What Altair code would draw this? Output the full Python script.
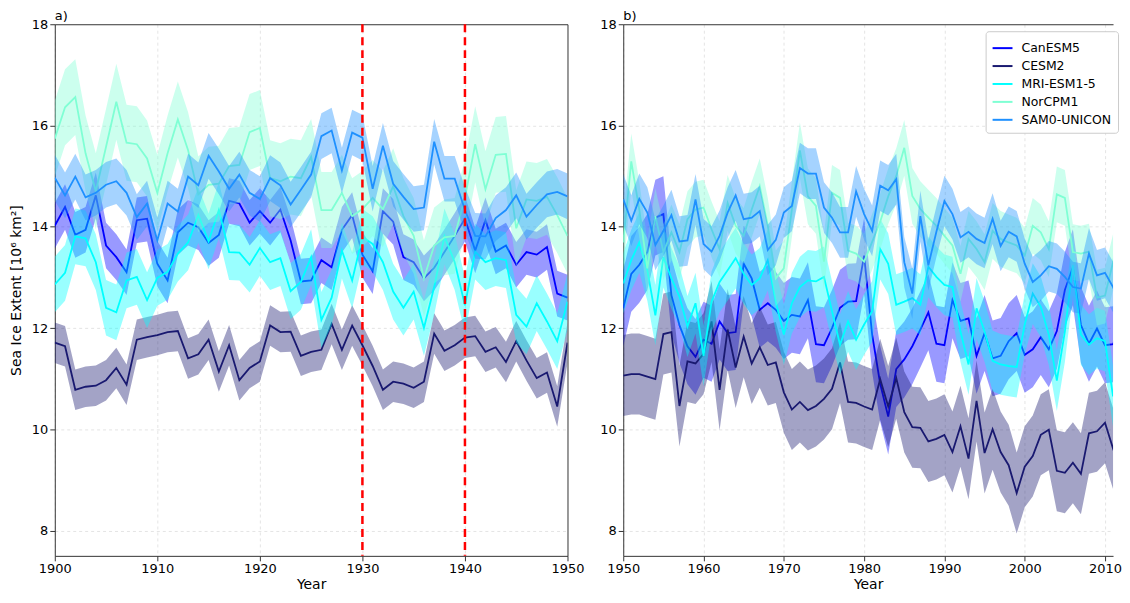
import altair as alt
import pandas as pd

models = ["CanESM5", "CESM2", "MRI-ESM1-5", "NorCPM1", "SAM0-UNICON"]
line_colors = ["#0000ff", "#191970", "#00ffff", "#7fffd4", "#1e90ff"]

years_a = list(range(1900, 1951))
years_b = list(range(1950, 2013))

# ---- panel a (1900-1950) ----
canesm5_a = [14.02, 14.39, 13.84, 13.94, 14.62, 13.63, 13.40, 13.10, 14.13, 14.16,
             13.27, 12.94, 13.89, 14.08, 13.99, 13.68, 13.84, 14.51, 14.46, 14.08,
             14.31, 14.08, 14.34, 13.73, 12.92, 12.94, 13.34, 13.20, 13.94, 14.23,
             13.45, 13.12, 14.31, 14.10, 13.40, 13.30, 12.98, 13.19, 13.50, 13.82,
             14.16, 13.53, 14.13, 13.51, 13.63, 13.25, 13.50, 13.45, 13.60, 12.68,
             12.60]
cesm2_a = [11.71, 11.64, 10.78, 10.84, 10.86, 10.97, 11.21, 10.88, 11.77, 11.82,
           11.86, 11.92, 11.94, 11.40, 11.48, 11.77, 11.14, 11.66, 10.97, 11.21,
           11.34, 12.05, 11.92, 11.93, 11.45, 11.53, 11.57, 12.08, 11.57, 12.05,
           11.66, 11.25, 10.78, 10.94, 10.90, 10.82, 10.94, 11.89, 11.55, 11.66,
           11.81, 11.84, 11.53, 11.62, 11.33, 11.74, 11.36, 11.01, 11.12, 10.45,
           11.71]
mri_a = [12.86, 13.09, 13.81, 13.77, 13.30, 12.40, 12.31, 12.94, 13.01, 12.55,
         12.99, 13.11, 13.47, 13.69, 14.23, 13.71, 14.33, 13.50, 13.49, 13.25,
         13.58, 13.30, 13.38, 12.73, 12.91, 13.40, 12.16, 12.60, 13.53, 12.94,
         13.80, 13.66, 13.30, 12.72, 12.40, 12.72, 12.00, 12.81, 13.81, 13.30,
         12.45, 13.51, 13.30, 13.38, 13.34, 12.26, 12.03, 12.49, 12.13, 11.74,
         12.52]
norcpm1_a = [15.74, 16.36, 16.56, 15.45, 14.70, 15.58, 16.47, 15.66, 15.63, 15.35,
             14.67, 15.45, 16.12, 15.51, 14.64, 14.83, 14.85, 15.20, 15.22, 15.87,
             15.95, 14.96, 14.90, 14.99, 14.96, 15.38, 14.33, 14.33, 14.67, 14.21,
             14.35, 14.57, 14.35, 14.80, 14.21, 13.82, 12.98, 13.63, 13.79, 13.82,
             14.57, 15.63, 14.74, 15.42, 15.44, 13.97, 14.54, 14.51, 14.59, 14.23,
             13.82]
sam0_a = [14.97, 14.62, 14.99, 14.58, 14.67, 14.83, 14.90, 14.67, 14.19, 14.46,
          13.73, 14.46, 14.30, 14.99, 14.82, 15.40, 15.09, 14.75, 15.03, 14.67,
          14.55, 14.96, 14.82, 14.44, 14.73, 15.03, 15.79, 15.90, 15.11, 15.86,
          15.76, 14.75, 15.60, 14.85, 14.59, 14.35, 14.38, 15.68, 14.95, 14.95,
          14.33, 13.82, 13.81, 14.17, 14.33, 14.62, 14.20, 14.43, 14.64, 14.69,
          14.60]

# ---- panel b (1950-2012) ----
canesm5_b = [12.39, 13.07, 13.25, 13.50, 14.18, 14.25, 12.65, 12.06, 11.64, 11.43,
             11.77, 11.69, 12.13, 11.90, 11.92, 13.27, 12.98, 12.36, 12.49, 12.36,
             12.14, 12.26, 12.23, 12.55, 11.68, 11.66, 12.00, 12.40, 12.52, 12.53,
             13.43, 11.87, 10.90, 10.25, 11.19, 11.38, 11.64, 11.97, 12.31, 11.69,
             11.66, 12.55, 12.14, 12.19, 11.45, 11.90, 11.40, 11.45, 11.74, 11.90,
             11.47, 11.58, 11.82, 11.58, 11.94, 12.75, 13.20, 12.06, 11.69, 11.99,
             11.66, 11.68, 12.06]
cesm2_b = [11.06, 11.09, 11.09, 11.04, 10.99, 11.88, 11.92, 10.46, 11.34, 11.30,
           11.49, 12.13, 10.78, 11.97, 11.22, 11.83, 11.30, 11.62, 11.27, 11.32,
           10.73, 10.39, 10.54, 10.38, 10.46, 10.60, 10.80, 11.32, 10.54, 10.52,
           10.45, 10.39, 10.99, 10.45, 11.01, 10.34, 10.04, 10.03, 9.76, 9.81,
           9.89, 9.55, 10.06, 9.42, 10.56, 9.53, 10.00, 9.55, 9.29, 8.74,
           9.26, 9.47, 9.89, 9.99, 9.18, 9.14, 9.34, 9.12, 9.92, 9.96,
           10.13, 9.62, 9.89]
mri_b = [12.88, 13.34, 13.69, 13.14, 12.25, 13.40, 12.98, 12.62, 12.03, 12.49,
         11.45, 12.52, 12.91, 13.14, 13.38, 13.07, 12.85, 12.98, 13.34, 12.52,
         11.87, 12.49, 12.81, 12.94, 12.92, 13.01, 12.33, 11.67, 12.13, 11.77,
         12.07, 12.33, 13.56, 13.27, 12.46, 12.52, 12.59, 12.46, 13.21, 13.01,
         12.85, 12.81, 11.93, 11.28, 12.39, 11.93, 11.35, 11.28, 11.25, 11.23,
         12.07, 12.68, 12.42, 11.87, 10.96, 11.93, 13.24, 11.87, 11.67, 11.80,
         11.74, 10.65, 11.50]
norcpm1_b = [13.69, 15.29, 14.34, 13.18, 14.21, 13.50, 13.89, 13.50, 14.15, 14.34,
             14.38, 13.95, 13.56, 14.47, 14.02, 13.82, 14.34, 14.80, 14.02, 12.98,
             13.18, 14.34, 15.51, 14.60, 14.41, 13.31, 14.67, 14.57, 13.53, 13.47,
             13.31, 13.70, 14.10, 14.60, 15.00, 15.56, 14.61, 14.35, 14.18, 14.02,
             13.82, 13.63, 13.07, 13.76, 13.56, 13.30, 13.92, 13.76, 13.69, 13.63,
             13.43, 14.02, 13.89, 13.56, 14.64, 14.57, 13.50, 13.47, 13.51, 12.60,
             12.64, 13.30, 14.08]
sam0_b = [14.54, 14.12, 14.55, 14.28, 13.64, 13.92, 14.23, 13.71, 13.73, 14.54,
          13.66, 13.51, 13.82, 14.28, 14.62, 14.15, 14.18, 14.31, 13.54, 13.74,
          14.28, 14.41, 15.16, 15.05, 15.05, 14.38, 14.18, 13.89, 13.89, 14.70,
          14.25, 13.92, 14.81, 14.72, 14.94, 13.30, 12.68, 14.21, 13.24, 13.90,
          14.51, 14.25, 13.79, 13.90, 13.76, 13.68, 14.16, 13.62, 13.90, 13.81,
          13.27, 12.91, 13.04, 13.22, 13.17, 13.01, 12.81, 12.78, 13.47, 13.04,
          13.09, 12.81, 12.39]

# half-widths of the shaded ensemble ranges
spread_a = [0.45, 0.40, 0.55, 0.75, 0.45]
spread_b = [0.75, 0.80, 0.60, 0.55, 0.50]

vlines = [1930, 1940]
y_ticks = [8, 10, 12, 14, 16, 18]

series_a = [canesm5_a, cesm2_a, mri_a, norcpm1_a, sam0_a]
series_b = [canesm5_b, cesm2_b, mri_b, norcpm1_b, sam0_b]


def make_df(years, series, spreads):
    rows = []
    for m, vals, s in zip(models, series, spreads):
        for y, v in zip(years, vals):
            rows.append({"year": y, "model": m, "value": v,
                         "lo": round(v - s, 3), "hi": round(v + s, 3)})
    return pd.DataFrame(rows)


FONT = "DejaVu Sans"
HEIGHT = 534
GRID = "#dddddd"
EDGE = "#333333"


def edge_cond(test, edge_val, normal_val):
    return {"condition": {"test": test, "value": edge_val}, "value": normal_val}


def panel(df, xdom, xticks, width, title, ytitle, legend, extra=None):
    xs = alt.Scale(domain=xdom, nice=False, zero=False)
    ys = alt.Scale(domain=[7.5, 18], nice=False, zero=False)
    xtest = "datum.value == %d" % xdom[1]
    xax = alt.Axis(title="Year", values=xticks, format="d", titlePadding=2,
                   labelFlush=False,
                   gridColor=edge_cond(xtest, EDGE, GRID),
                   gridDash=edge_cond(xtest, [], [3, 3]),
                   gridWidth=edge_cond(xtest, 1, 0.8))
    ytest = "datum.value == 18"
    ykw = dict(values=y_ticks, titlePadding=8,
               gridColor=edge_cond(ytest, EDGE, GRID),
               gridDash=edge_cond(ytest, [], [3, 3]),
               gridWidth=edge_cond(ytest, 1, 0.8))
    yax = alt.Axis(title=ytitle, **ykw) if ytitle else alt.Axis(title=None, **ykw)
    color = alt.Color("model:N",
                      scale=alt.Scale(domain=models, range=line_colors),
                      legend=legend)
    layers = []
    for m, c in zip(models, line_colors):
        sub = df[df["model"] == m]
        area = alt.Chart(sub).mark_area(color=c, opacity=0.4, clip=True).encode(
            x=alt.X("year:Q", scale=xs, axis=xax),
            y=alt.Y("lo:Q", scale=ys, axis=yax),
            y2="hi:Q",
        )
        line = alt.Chart(sub).mark_line(strokeWidth=1.8, clip=True).encode(
            x=alt.X("year:Q", scale=xs, axis=xax),
            y=alt.Y("value:Q", scale=ys, axis=yax),
            color=color,
        )
        layers += [area, line]
    if extra is not None:
        layers.append(extra)
    return alt.layer(*layers).properties(
        width=width, height=HEIGHT,
        title=alt.TitleParams(title, anchor="start", frame="group", fontSize=13,
                              fontWeight="normal", font=FONT, offset=-5,
                              color="#000000"),
    )


df_a = make_df(years_a, series_a, spread_a)
df_b = make_df(years_b, series_b, spread_b)

rules = alt.Chart(pd.DataFrame({"year": vlines})).mark_rule(
    color="#ff0000", strokeWidth=2.5, strokeDash=[8, 5]
).encode(x="year:Q")

legend_b = alt.Legend(title=None, orient="none", legendX=364, legendY=7,
                      symbolType="stroke", symbolSize=400, symbolStrokeWidth=2,
                      labelFontSize=12.5, labelFont=FONT, rowPadding=-2,
                      padding=6, strokeColor="#cccccc", fillColor="#ffffff",
                      cornerRadius=3, labelOffset=8)

left = panel(df_a, [1900, 1950], [1900, 1910, 1920, 1930, 1940, 1950], 515,
             "a)", "Sea Ice Extent [10\u2076 km\u00b2]", None, rules)
right = panel(df_b, [1950, 2011], [1950, 1960, 1970, 1980, 1990, 2000, 2010], 492,
              "b)", None, legend_b)

chart = alt.hconcat(left, right, spacing=13).resolve_scale(
    color="independent"
).configure(
    font=FONT,
    padding={"left": 0, "top": 0, "right": 0, "bottom": 0},
).configure_view(
    stroke="transparent"
).configure_axis(
    labelFont=FONT, titleFont=FONT, labelFontSize=13, titleFontSize=14,
    titleFontWeight="normal", labelColor="#000000", titleColor="#000000",
    domainColor=EDGE, tickColor=EDGE, tickSize=5,
    grid=True, labelPadding=2,
)

chart.save("out.html", embed_options={"renderer": "svg", "actions": False})
